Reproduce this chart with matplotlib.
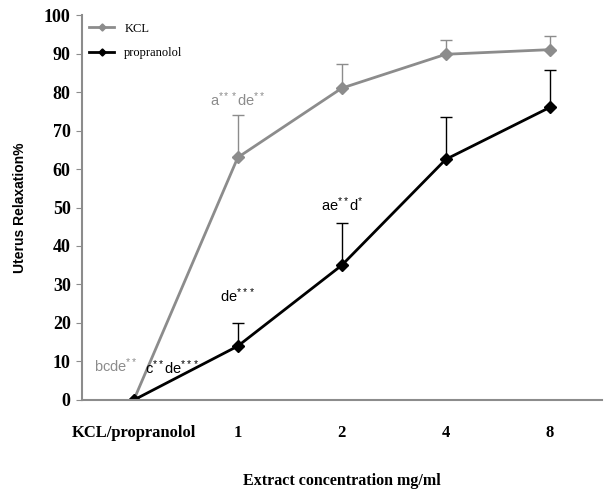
import numpy as np
import matplotlib.pyplot as plt

plt.rcParams['font.family'] = 'Liberation Sans'
plt.rcParams['mathtext.fontset'] = 'custom'
plt.rcParams['mathtext.rm'] = 'Liberation Sans'
plt.rcParams['mathtext.it'] = 'Liberation Sans'

# data
categories = ["KCL/propranolol", "1", "2", "4", "8"]
kcl = [0, 63, 81, 89.8, 91]
kcl_err = [0, 11, 6.3, 3.7, 3.5]
prop = [0, 14, 35, 62.5, 76]
prop_err = [0, 6, 11, 11, 9.7]

gray = "#8c8c8c"
x = np.arange(len(categories))

fig = plt.figure(figsize=(6.06, 4.92), dpi=100)
ax = fig.add_axes([0.135, 0.187, 0.858, 0.7825])

ax.errorbar(x, kcl, yerr=[np.zeros(len(kcl)), kcl_err], fmt="none",
            ecolor=gray, elinewidth=1, capsize=4, capthick=1)
ax.errorbar(x, prop, yerr=[np.zeros(len(prop)), prop_err], fmt="none",
            ecolor="black", elinewidth=1, capsize=4, capthick=1)
ax.plot(x, kcl, color=gray, lw=2, marker="D", ms=6, label="KCL")
ax.plot(x, prop, color="black", lw=2, marker="D", ms=6, label="propranolol")

# significance labels
sig = dict(ha="center", va="center", fontsize=10.5)
ax.text(1, 78, r"$\mathregular{a^{***}de^{**}}$", color=gray, **sig)
ax.text(1, 27, r"$\mathregular{de^{***}}$", color="black", **sig)
ax.text(2, 50.6, r"$\mathregular{ae^{**}d^{*}}$", color="black", **sig)
ax.text(-0.17, 9, r"$\mathregular{bcde^{**}}$", color=gray, **sig)
ax.text(0.37, 8.5, r"$\mathregular{c^{**}de^{***}}$", color="black", **sig)

ax.set_xlim(-0.5, 4.5)
ax.set_ylim(0, 100)
ax.set_yticks(range(0, 101, 10))
ax.set_xticks(x)
ax.set_xticklabels(categories, family="Liberation Serif", fontweight="bold", fontsize=12)
for lab in ax.get_yticklabels():
    lab.set_family("Liberation Serif")
    lab.set_fontweight("bold")
    lab.set_fontsize(13)
ax.tick_params(axis="x", length=0, pad=18)
ax.tick_params(axis="y", length=4, color=gray, pad=4)

for s in ["top", "right"]:
    ax.spines[s].set_visible(False)
for s in ["left", "bottom"]:
    ax.spines[s].set_color(gray)
    ax.spines[s].set_linewidth(1.5)

ax.set_ylabel("Uterus Relaxation%", family="Liberation Sans", fontweight="bold",
              fontsize=10, labelpad=12)
ax.set_xlabel("Extract concentration mg/ml", family="Liberation Serif",
              fontweight="bold", fontsize=11.5, labelpad=23)

leg = ax.legend(loc="upper left", frameon=False, prop={"family": "Liberation Serif", "size": 9},
                handlelength=2, markerscale=0.6, borderaxespad=0.2, labelspacing=1.0)

fig.savefig("out.png", dpi=100)
